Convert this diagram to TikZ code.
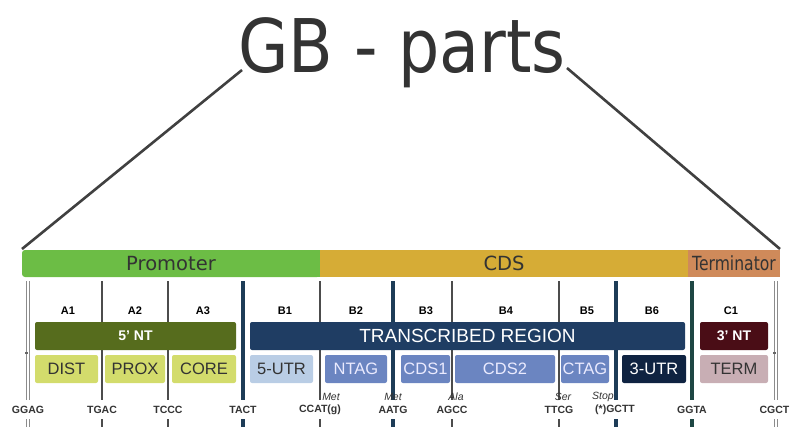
\documentclass[tikz,border=0pt]{standalone}
\usepackage{fontspec}
\setmainfont{Liberation Sans}
\newfontfamily\dejavu{DejaVu Sans}
\definecolor{promg}{HTML}{6CBD45}
\definecolor{cdsg}{HTML}{D6AC36}
\definecolor{termc}{HTML}{CF8A5A}
\definecolor{olive}{HTML}{566C1D}
\definecolor{yell}{HTML}{D3DC6C}
\definecolor{navy}{HTML}{1F3D63}
\definecolor{maroon}{HTML}{4A0D16}
\definecolor{lblue}{HTML}{B9CDE5}
\definecolor{mblue}{HTML}{6B85C1}
\definecolor{dnavy}{HTML}{0F2341}
\definecolor{pinkg}{HTML}{C8AEB4}
\definecolor{thickc}{HTML}{1D3C57}
\definecolor{tealc}{HTML}{1E4744}
\definecolor{txt}{HTML}{333333}
\tikzset{
  hdrbox/.style={minimum height=27, inner sep=0, font=\dejavu\fontsize{19.5}{20}\selectfont, text=txt},
  topbox/.style={minimum height=28, inner sep=0, rounded corners=2, font=\bfseries\fontsize{14}{14}\selectfont, text=white},
  lowbox/.style={minimum height=28, inner sep=0, rounded corners=2, font=\fontsize{16.5}{16.5}\selectfont},
  seglbl/.style={font=\bfseries\fontsize{11}{11}\selectfont, text=black},
  seqlbl/.style={font=\bfseries\fontsize{10.5}{10.5}\selectfont, text=txt, inner sep=0},
  aalbl/.style={font=\itshape\fontsize{10.5}{10.5}\selectfont, text=txt, inner sep=0},
  thinln/.style={draw=black!70, line width=1.3},
  thickln/.style={draw=thickc, line width=4},
  tealln/.style={draw=tealc, line width=4},
  dblln/.style={draw=black!45, line width=0.9, double=white, double distance=1.6},
  diag/.style={draw=black!75, line width=2.6},
}
\begin{document}
\begin{tikzpicture}[x=1pt,y=-1pt]
\useasboundingbox (0,0) rectangle (790,426);
% title
\node[font=\dejavu\fontsize{74}{74}\selectfont, text=txt, xscale=0.88, anchor=base, inner sep=0] (title) at (402,72) {GB - parts};
\coordinate (tl) at (242,70);
\coordinate (tr) at (567,68);
\coordinate (bl) at (22,249);
\coordinate (br) at (780,249);
\draw[diag] (tl) -- (bl);
\draw[diag] (tr) -- (br);
% header bar
\node[hdrbox, fill=promg, minimum width=298, rounded corners=3] (prom) at (171,263.5) {};
\fill[promg] (200,250) rectangle (320,277);
\node[hdrbox] (promt) at (171,263.5) {Promoter};
\node[hdrbox, fill=cdsg, minimum width=368] (cds) at (504,263.5) {CDS};
\node[hdrbox, fill=termc, minimum width=92] (term) at (734,263.5) {};
\node[hdrbox, xscale=0.8] (termt) at (734,263.5) {Terminator};
% vertical lines
\foreach \n/\x/\s in {v1/28/dblln, v2/102/thinln, v3/168/thinln, v4/243/thickln, v5/320/thinln, v6/393/thickln, v7/452/thinln, v8/559/thinln, v9/616/thickln, v10/692/tealln, v11/776/dblln}{
  \coordinate (\n a) at (\x,281);
  \coordinate (\n b) at (\x,400);
  \coordinate (\n c) at (\x,419);
  \coordinate (\n d) at (\x,428);
  \draw[\s] (\n a) -- (\n b);
  \draw[\s] (\n c) -- (\n d);
}
\coordinate (tk1) at (25,353);
\coordinate (tk2) at (773,353);
\draw[black!60, line width=1.2] (tk1) -- (v1a |- tk1);
\draw[black!60, line width=1.2] (tk2) -- (v11a |- tk2);
% segment labels
\foreach \n/\x/\t in {a1/68/A1, a2/135/A2, a3/203/A3, b1/285/B1, b2/356/B2, b3/426/B3, b4/506/B4, b5/587/B5, b6/652/B6, c1/731/C1}{
  \node[seglbl] (\n) at (\x,311) {\t};
}
% top boxes
\node[topbox, fill=olive, minimum width=201] (nt5) at (135.5,336) {5' NT};
\node[topbox, fill=navy, minimum width=435, font=\fontsize{19}{19}\selectfont, text=white] (tr) at (467.5,336) {TRANSCRIBED REGION};
\node[topbox, fill=maroon, minimum width=68] (nt3) at (734,336) {3' NT};
% lower boxes
\node[lowbox, fill=yell, minimum width=63, text=txt] (dist) at (66.5,369) {DIST};
\node[lowbox, fill=yell, minimum width=60, text=txt] (prox) at (135,369) {PROX};
\node[lowbox, fill=yell, minimum width=64, text=txt] (core) at (204,369) {CORE};
\node[lowbox, fill=lblue, minimum width=63, text=txt] (utr5) at (281.5,369) {5-UTR};
\node[lowbox, fill=mblue, minimum width=62, text=white!92!blue] (ntag) at (356,369) {NTAG};
\node[lowbox, fill=mblue, minimum width=49, text=white!92!blue] (cds1) at (425.5,369) {CDS1};
\node[lowbox, fill=mblue, minimum width=100, text=white!92!blue] (cds2) at (505,369) {CDS2};
\node[lowbox, fill=mblue, minimum width=48, text=white!92!blue] (ctag) at (585,369) {CTAG};
\node[lowbox, fill=dnavy, minimum width=64, text=white] (utr3) at (654,369) {3-UTR};
\node[lowbox, fill=pinkg, minimum width=68, text=txt] (termb) at (734,369) {TERM};
% sequence labels
\foreach \n/\x/\t in {s1/28/GGAG, s2/102/TGAC, s3/168/TCCC, s4/243/TACT, s5/320/CCAT(g), s6/393/AATG, s7/452/AGCC, s8/559/TTCG, s9/615/(*)GCTT, s10/692/GGTA}{
  \node[seqlbl] (\n) at (\x,410) {\t};
}
\node[seqlbl, anchor=east] (s11) at (789.5,410) {CGCT};
% amino acid labels
\node[aalbl] (m1) at (331,397) {Met};
\node[aalbl] (m2) at (393,397) {Met};
\node[aalbl] (ala) at (456,397) {Ala};
\node[aalbl] (ser) at (563,397) {Ser};
\node[aalbl] (stop) at (603,397) {Stop};
\end{tikzpicture}
\end{document}
